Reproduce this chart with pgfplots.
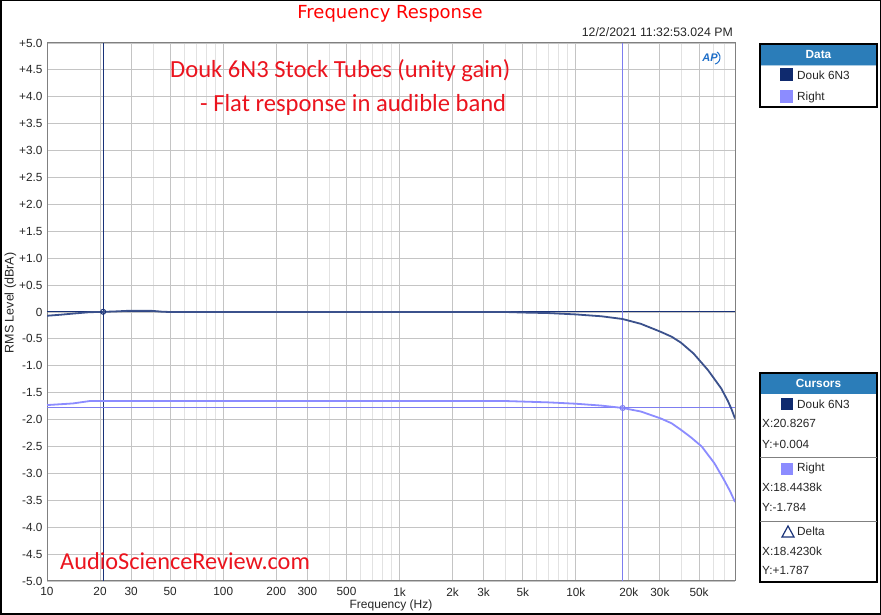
\documentclass[border=0pt]{standalone}
\usepackage{fontspec}
\setmainfont{Liberation Sans}
\newfontfamily\calib{Carlito}
\newfontfamily\dejavu{DejaVu Sans}
\usepackage{pgfplots}
\pgfplotsset{compat=1.18}
\definecolor{navy}{RGB}{25,50,120}
\definecolor{navysq}{RGB}{15,42,110}
\definecolor{lightb}{RGB}{140,140,255}
\definecolor{curline}{RGB}{125,125,240}
\definecolor{hdr}{RGB}{43,125,185}
\definecolor{gmaj}{RGB}{196,196,196}
\definecolor{gmin}{RGB}{226,226,226}
\definecolor{asr}{RGB}{235,20,30}
\definecolor{aplogo}{RGB}{30,110,200}
\begin{document}
\begin{tikzpicture}[x=1pt,y=1pt]
\path[fill=white] (0,0) rectangle (881,615);
\begin{axis}[at={(47pt,34pt)}, anchor=south west, width=688pt, height=538pt, scale only axis,
  xmode=log, xmin=10, xmax=80000, ymin=-5, ymax=5,
  axis line style={draw=gray, line width=1pt},
  major tick length=0pt, minor tick length=0pt,
  xtick={10,20,30,50,100,200,300,500,1000,2000,3000,5000,10000,20000,30000,50000},
  xticklabels={10,20,30,50,100,200,300,500,1k,2k,3k,5k,10k,20k,30k,50k},
  minor xtick={40,60,70,80,90,400,600,700,800,900,4000,6000,7000,8000,9000,40000,60000,70000},
  ytick={-5,-4.5,-4,-3.5,-3,-2.5,-2,-1.5,-1,-0.5,0,0.5,1,1.5,2,2.5,3,3.5,4,4.5,5},
  yticklabels={-5.0,-4.5,-4.0,-3.5,-3.0,-2.5,-2.0,-1.5,-1.0,-0.5,0,+0.5,+1.0,+1.5,+2.0,+2.5,+3.0,+3.5,+4.0,+4.5,+5.0},
  grid=both,
  major grid style={gmaj, line width=0.9pt},
  minor grid style={gmin, line width=0.9pt},
  ticklabel style={font=\fontsize{11.8}{13}\selectfont, text=black!85},
  yticklabel style={xshift=-1pt},
  xticklabel style={yshift=-3pt},
]
% cursor lines
\addplot[navy, line width=1pt, forget plot] coordinates {(20.8267,-5) (20.8267,5)};
\addplot[navy, line width=1pt, forget plot] coordinates {(10,0.004) (80000,0.004)};
\addplot[curline, line width=1pt, forget plot] coordinates {(18443.8,-5) (18443.8,5)};
\addplot[curline, line width=1pt, forget plot] coordinates {(10,-1.784) (80000,-1.784)};
% Douk 6N3
\addplot[navy!85!white, line width=1.8pt, line join=round] coordinates {
(10,-0.07) (12,-0.05) (14,-0.03) (17.5,-0.003) (20,0.0) (25,0.012) (30,0.025) (35,0.025) (40,0.02) (45,0.005) (50,0)
(100,0) (1000,0) (4000,0) (5000,-0.01) (7000,-0.02) (10000,-0.045) (14000,-0.08) (18400,-0.13) (23400,-0.22)
(30400,-0.37) (35000,-0.46) (39500,-0.57) (46500,-0.77) (56200,-1.08) (66800,-1.42) (72800,-1.65) (76300,-1.80) (80000,-1.98)};
% Right
\addplot[lightb, line width=1.8pt, line join=round] coordinates {
(10,-1.73) (14,-1.70) (17.5,-1.655) (20,-1.655) (100,-1.655) (1000,-1.655) (4000,-1.655) (5000,-1.665)
(7000,-1.68) (10000,-1.705) (14000,-1.74) (18444,-1.784) (23400,-1.85) (30400,-1.98) (35000,-2.07) (39500,-2.19)
(45000,-2.33) (51800,-2.50) (61100,-2.81) (69300,-3.12) (75000,-3.33) (80000,-3.53)};
% cursor markers
\addplot[only marks, mark=o, mark size=2.5pt, navy, mark options={fill=white, line width=1pt}] coordinates {(20.8267,0.004)};
\addplot[only marks, mark=o, mark size=2.5pt, curline, mark options={fill=white, line width=1pt}] coordinates {(18443.8,-1.784)};
\end{axis}
% titles and labels
\node[anchor=base, font=\dejavu\fontsize{18}{20}\selectfont, text=red] at (390,596.4) {Frequency Response};
\node[anchor=base east, font=\fontsize{12.3}{14}\selectfont, text=black!85, inner sep=0pt] at (733,578.3) {12/2/2021 11:32:53.024 PM};
\node[anchor=base, font=\fontsize{12}{14}\selectfont, text=black!85, inner sep=0pt] at (391,6.7) {Frequency (Hz)};
\node[rotate=90, anchor=center, font=\fontsize{12.5}{14}\selectfont, text=black!85, inner sep=0pt] at (10.5,312) {RMS Level (dBrA)};
% annotations
\node[anchor=base west, inner sep=0pt, font=\calib\fontsize{24.6}{28}\selectfont, text=asr] at (170,537.7) {Douk 6N3 Stock Tubes (unity gain)};
\node[anchor=base west, inner sep=0pt, font=\calib\fontsize{24.6}{28}\selectfont, text=asr] at (200,503.3) {- Flat response in audible band};
\node[anchor=base west, inner sep=0pt, font=\calib\fontsize{24.3}{28}\selectfont, text=asr] at (60,45.7) {AudioScienceReview.com};
% AP logo
\node[font=\bfseries\itshape\fontsize{11}{12}\selectfont, text=aplogo, inner sep=0pt] at (710,557) {AP};
\draw[aplogo, line width=1pt] (717,563) arc[start angle=60, end angle=-80, x radius=6, y radius=6.5];
% Data legend panel
\fill[hdr] (760,571) rectangle (877,550);
\draw[hdr!40, line width=0.8pt] (760,549.5) -- (877,549.5);
\draw[black, line width=1.3pt] (760,571) rectangle (877,508);
\node[text=white, font=\bfseries\fontsize{11.8}{13}\selectfont] at (818.5,560.5) {Data};
\fill[navysq] (780,534) rectangle (793,547);
\node[anchor=west, inner sep=0pt, font=\fontsize{11.8}{13}\selectfont, text=black!85] at (797,540) {Douk 6N3};
\fill[lightb] (780,512) rectangle (793,525);
\node[anchor=west, inner sep=0pt, font=\fontsize{11.8}{13}\selectfont, text=black!85] at (797,518) {Right};
% Cursors panel
\fill[hdr] (760,242) rectangle (877,221);
\draw[black, line width=1.3pt] (760,242) rectangle (877,33);
\node[text=white, font=\bfseries\fontsize{11.8}{13}\selectfont] at (818.5,231.5) {Cursors};
\fill[navysq] (781,205) rectangle (793,217);
\node[anchor=west, inner sep=0pt, font=\fontsize{11.8}{13}\selectfont, text=black!85] at (797,211) {Douk 6N3};
\node[anchor=west, inner sep=0pt, font=\fontsize{11.8}{13}\selectfont, text=black!85] at (762,192) {X:20.8267};
\node[anchor=west, inner sep=0pt, font=\fontsize{11.8}{13}\selectfont, text=black!85] at (762,171) {Y:+0.004};
\draw[gray, line width=0.8pt] (760,158) -- (877,158);
\fill[lightb] (781,140) rectangle (793,152);
\node[anchor=west, inner sep=0pt, font=\fontsize{11.8}{13}\selectfont, text=black!85] at (797,147) {Right};
\node[anchor=west, inner sep=0pt, font=\fontsize{11.8}{13}\selectfont, text=black!85] at (762,128) {X:18.4438k};
\node[anchor=west, inner sep=0pt, font=\fontsize{11.8}{13}\selectfont, text=black!85] at (762,108) {Y:-1.784};
\draw[gray, line width=0.8pt] (760,94) -- (877,94);
\draw[navy, line width=1.2pt, line join=miter] (782,78) -- (794,78) -- (788,89) -- cycle;
\node[anchor=west, inner sep=0pt, font=\fontsize{11.8}{13}\selectfont, text=black!85] at (797,84) {Delta};
\node[anchor=west, inner sep=0pt, font=\fontsize{11.8}{13}\selectfont, text=black!85] at (762,64) {X:18.4230k};
\node[anchor=west, inner sep=0pt, font=\fontsize{11.8}{13}\selectfont, text=black!85] at (762,45) {Y:+1.787};
% outer frame
\draw[black, line width=1.5pt] (0.75,0.75) rectangle (880.25,614.25);
\end{tikzpicture}
\end{document}
